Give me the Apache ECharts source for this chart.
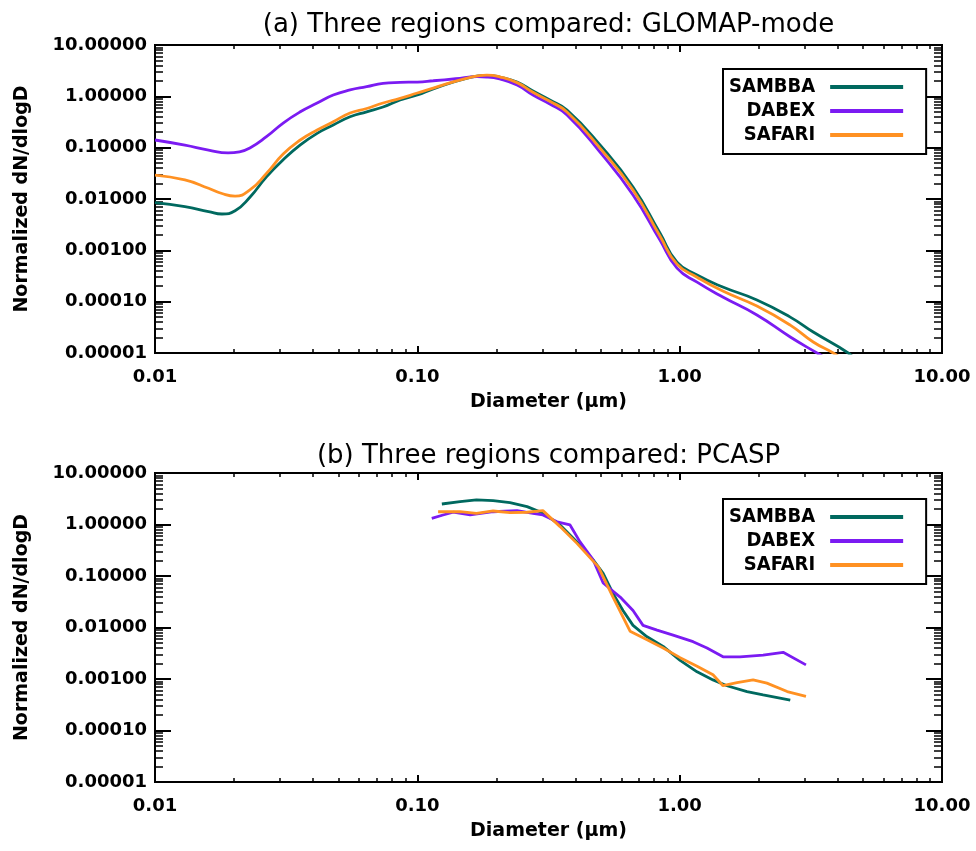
<!DOCTYPE html>
<html>
<head>
<meta charset="utf-8">
<script src="https://cdn.jsdelivr.net/npm/echarts@6/dist/echarts.min.js"></script>
<style>html,body{margin:0;padding:0;background:#fff}#chart{width:976px;height:851px}</style>
</head>
<body>
<div id="chart"></div>
<script>
// ---------- data ----------
const NAMES = ['SAMBBA', 'DABEX', 'SAFARI'];
const COLORS = ['#00695f', '#7b1bf2', '#ff9122'];
const TITLES = ['(a) Three regions compared: GLOMAP-mode', '(b) Three regions compared: PCASP'];
const X_NAME = 'Diameter (\u03bcm)';
const Y_NAME = 'Normalized dN/dlogD';
const X_MAJOR = [0.01, 0.1, 1, 10];
const Y_MAJOR = [0.00001, 0.0001, 0.001, 0.01, 0.1, 1, 10];
const MINOR_MULT = [2, 3, 4, 5, 6, 7, 8, 9];

// (a) GLOMAP-mode
const D_TOP_SAMBBA = [0.01,0.013,0.016,0.018,0.0202,0.023,0.0266,0.0308,0.0358,0.0415,0.0478,0.0554,0.0641,0.074,0.086,0.1,0.115,0.155,0.184,0.206,0.24,0.276,0.32,0.372,0.497,0.664,0.841,0.977,1.165,1.46,1.97,2.64,3.23,4.39,4.7];
const V_TOP_SAMBBA = [0.0085,0.0071,0.0057,0.0051,0.0059,0.0108,0.027,0.058,0.113,0.19,0.276,0.40,0.50,0.62,0.85,1.06,1.4,2.27,2.57,2.38,1.90,1.27,0.85,0.54,0.113,0.0171,0.00218,0.00059,0.00033,0.000193,0.000108,5.0e-5,2.56e-5,1.0e-5,7e-6];
const D_TOP_DABEX = [0.01,0.013,0.016,0.019,0.021,0.023,0.0266,0.0308,0.0358,0.0415,0.0478,0.0554,0.0641,0.074,0.086,0.1,0.115,0.14,0.169,0.184,0.206,0.24,0.276,0.32,0.372,0.497,0.664,0.841,0.977,1.165,1.46,1.97,2.64,3.34,3.6];
const V_TOP_DABEX = [0.141,0.112,0.090,0.079,0.083,0.0985,0.164,0.302,0.50,0.74,1.06,1.33,1.54,1.79,1.87,1.9,2.01,2.2,2.41,2.38,2.18,1.66,1.06,0.71,0.433,0.082,0.012,0.00159,0.00045,0.00024,0.000123,5.5e-5,2.05e-5,1.0e-5,8e-6];
const D_TOP_SAFARI = [0.01,0.013,0.016,0.018,0.0202,0.023,0.0266,0.0308,0.0358,0.0415,0.0478,0.0554,0.0641,0.074,0.086,0.1,0.115,0.155,0.184,0.206,0.24,0.276,0.32,0.372,0.497,0.664,0.841,0.977,1.165,1.46,1.97,2.64,3.23,3.85,4.1];
const V_TOP_SAFARI = [0.0293,0.0235,0.0162,0.0128,0.0114,0.015,0.0315,0.075,0.141,0.221,0.32,0.473,0.58,0.741,0.91,1.16,1.45,2.27,2.6,2.4,1.85,1.2,0.8,0.495,0.098,0.015,0.0019,0.00054,0.0003,0.000161,8.2e-5,3.5e-5,1.64e-5,1.0e-5,8e-6];

// (b) PCASP
const D_BOT_SAMBBA = [0.124,0.1455,0.168,0.1945,0.2256,0.262,0.301,0.350,0.406,0.468,0.511,0.557,0.608,0.664,0.751,0.865,1.004,1.165,1.34,1.514,1.806,2.08,2.64];
const V_BOT_SAMBBA = [2.5,2.77,3.0,2.9,2.65,2.22,1.67,0.98,0.46,0.205,0.113,0.046,0.0214,0.011,0.0066,0.0043,0.0023,0.00138,0.00096,0.00074,0.00057,0.00049,0.00039];
const D_BOT_DABEX = [0.1135,0.1253,0.137,0.159,0.1945,0.240,0.276,0.301,0.341,0.382,0.417,0.468,0.511,0.593,0.664,0.725,0.820,0.944,1.125,1.271,1.463,1.698,2.08,2.48,3.03];
const V_BOT_DABEX = [1.32,1.53,1.73,1.53,1.77,1.86,1.65,1.53,1.13,0.98,0.46,0.205,0.073,0.039,0.0214,0.011,0.0089,0.0071,0.0053,0.0040,0.0027,0.0027,0.0029,0.0033,0.00188];
const D_BOT_SAFARI = [0.12,0.1455,0.168,0.1945,0.2256,0.262,0.301,0.350,0.406,0.49,0.557,0.647,0.751,0.865,1.004,1.165,1.34,1.463,1.654,1.905,2.15,2.57,3.03];
const V_BOT_SAFARI = [1.77,1.77,1.65,1.83,1.70,1.73,1.86,0.91,0.43,0.15,0.039,0.0085,0.0058,0.0040,0.0026,0.00177,0.00121,0.00074,0.00085,0.00096,0.00083,0.00057,0.00046];

// ---------- chart ----------
const FONT = 'DejaVu Sans';
const FONT_COND = '"DejaVu Sans Condensed", "DejaVu Sans"';
function pairs(d, v) { return d.map((x, i) => [x, v[i]]); }
function minorTicks(major) {
  const out = [];
  for (let i = 0; i < major.length - 1; i++) MINOR_MULT.forEach(m => out.push(major[i] * m));
  return out;
}

function xAxesFor(g) {
  const base = {type: 'log', logBase: 10, min: X_MAJOR[0], max: X_MAJOR[X_MAJOR.length - 1], gridIndex: g,
    splitLine: {show: false}, axisLine: {show: false}, minorTick: {show: false}};
  const majorTick = {show: true, inside: true, length: 7, customValues: X_MAJOR, lineStyle: {color: '#000', width: 2}};
  const minorTick = {show: true, inside: true, length: 4, customValues: minorTicks(X_MAJOR), lineStyle: {color: '#000', width: 1.5}};
  return [
    Object.assign({}, base, {position: 'bottom', axisTick: majorTick,
      axisLabel: {show: true, customValues: X_MAJOR, formatter: v => Number(v).toFixed(2), margin: 15, color: '#000', fontFamily: FONT, fontWeight: 'bold', fontSize: 18},
      name: X_NAME, nameLocation: 'middle', nameGap: 40,
      nameTextStyle: {color: '#000', fontFamily: FONT, fontWeight: 'bold', fontSize: 19}}),
    Object.assign({}, base, {position: 'bottom', axisTick: minorTick, axisLabel: {show: false}}),
    Object.assign({}, base, {position: 'top', axisTick: majorTick, axisLabel: {show: false},
      name: TITLES[g], nameLocation: 'middle', nameGap: g === 0 ? 7 : 4,
      nameTextStyle: {color: '#000', fontFamily: FONT, fontSize: 26}}),
    Object.assign({}, base, {position: 'top', axisTick: minorTick, axisLabel: {show: false}})
  ];
}
function yAxesFor(g) {
  const base = {type: 'log', logBase: 10, min: Y_MAJOR[0], max: Y_MAJOR[Y_MAJOR.length - 1], gridIndex: g,
    splitLine: {show: false}, axisLine: {show: false}, minorTick: {show: false}};
  const majorTick = {show: true, inside: true, length: 16, customValues: Y_MAJOR, lineStyle: {color: '#000', width: 2}};
  const minorTick = {show: true, inside: true, length: 8, customValues: minorTicks(Y_MAJOR), lineStyle: {color: '#000', width: 1.5}};
  return [
    Object.assign({}, base, {position: 'left', axisTick: majorTick,
      axisLabel: {show: true, customValues: Y_MAJOR, formatter: v => Number(v).toFixed(5), margin: 8, color: '#000', fontFamily: FONT, fontWeight: 'bold', fontSize: 18},
      name: Y_NAME, nameLocation: 'middle', nameGap: 123,
      nameTextStyle: {color: '#000', fontFamily: FONT, fontWeight: 'bold', fontSize: 19}}),
    Object.assign({}, base, {position: 'left', axisTick: minorTick, axisLabel: {show: false}}),
    Object.assign({}, base, {position: 'right', axisTick: majorTick, axisLabel: {show: false}}),
    Object.assign({}, base, {position: 'right', axisTick: minorTick, axisLabel: {show: false}})
  ];
}

const legendBase = {
  orient: 'vertical', align: 'right', icon: 'rect', itemWidth: 73, itemHeight: 4, itemGap: 2,
  left: 723, padding: [7, 23, 8, 6], borderColor: '#000', borderWidth: 2, backgroundColor: '#fff',
  selectedMode: false, data: NAMES,
  textStyle: {color: '#000', fontFamily: FONT_COND, fontWeight: 'bold', fontSize: 20, lineHeight: 22, padding: [0, 10, 0, 0]}
};

const TOP = [pairs(D_TOP_SAMBBA, V_TOP_SAMBBA), pairs(D_TOP_DABEX, V_TOP_DABEX), pairs(D_TOP_SAFARI, V_TOP_SAFARI)];
const BOT = [pairs(D_BOT_SAMBBA, V_BOT_SAMBBA), pairs(D_BOT_DABEX, V_BOT_DABEX), pairs(D_BOT_SAFARI, V_BOT_SAFARI)];

const series = [];
NAMES.forEach((n, i) => series.push({type: 'line', name: n, xAxisIndex: 0, yAxisIndex: 0, data: TOP[i], smooth: 0.5,
  showSymbol: false, symbol: 'none', clip: true, lineStyle: {color: COLORS[i], width: 2.8}, itemStyle: {color: COLORS[i]}}));
NAMES.forEach((n, i) => series.push({type: 'line', name: n, xAxisIndex: 4, yAxisIndex: 4, data: BOT[i], smooth: false,
  showSymbol: false, symbol: 'none', clip: true, lineStyle: {color: COLORS[i], width: 2.8}, itemStyle: {color: COLORS[i]}}));

const chart = echarts.init(document.getElementById('chart'), null, {renderer: 'canvas'});
chart.setOption({
  animation: false,
  backgroundColor: '#fff',
  grid: [
    {left: 155, right: 34, top: 45, height: 308, show: true, borderColor: '#000', borderWidth: 2, backgroundColor: 'transparent', containLabel: false, outerBoundsMode: 'none'},
    {left: 155, right: 34, top: 473, height: 309, show: true, borderColor: '#000', borderWidth: 2, backgroundColor: 'transparent', containLabel: false, outerBoundsMode: 'none'}
  ],
  xAxis: xAxesFor(0).concat(xAxesFor(1)),
  yAxis: yAxesFor(0).concat(yAxesFor(1)),
  legend: [Object.assign({}, legendBase, {top: 69}), Object.assign({}, legendBase, {top: 499})],
  series: series
});
</script>
</body>
</html>
